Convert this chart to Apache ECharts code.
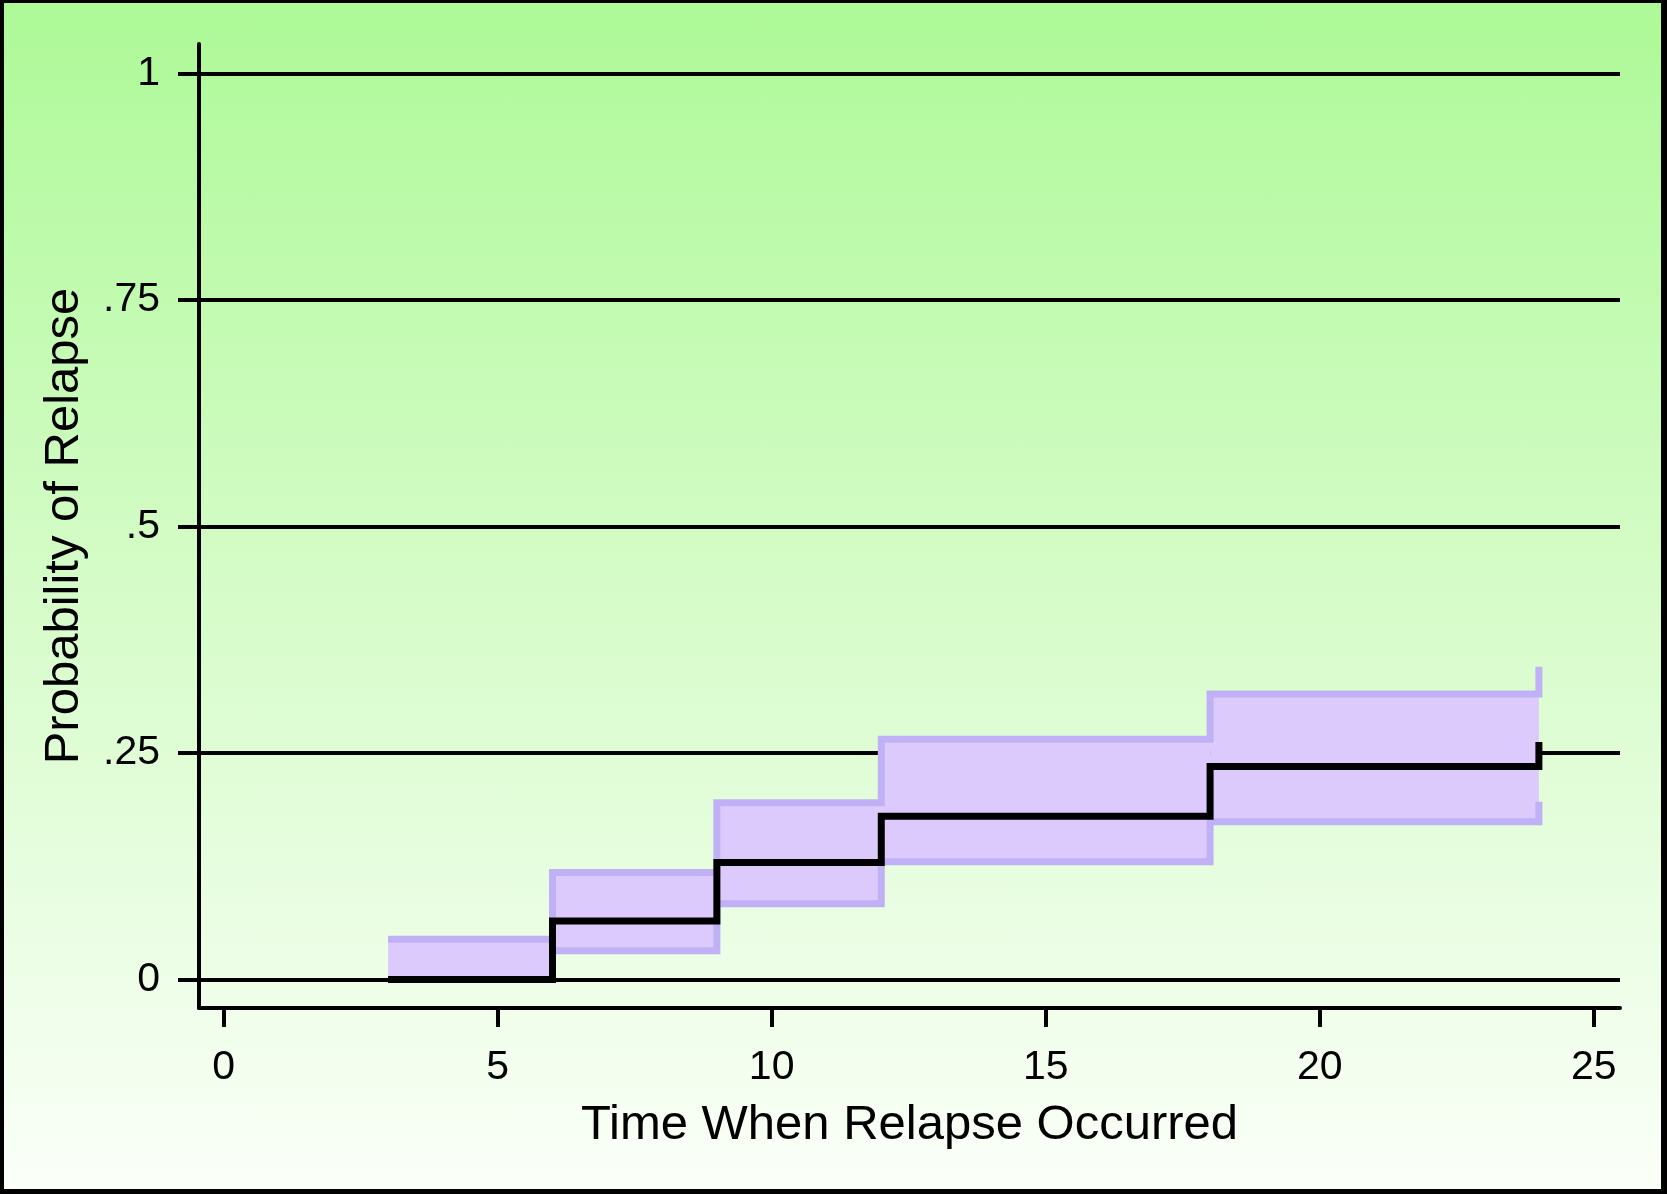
<!DOCTYPE html>
<html>
<head>
<meta charset="utf-8">
<script src="https://cdn.jsdelivr.net/npm/echarts@6/dist/echarts.min.js"></script>
<style>
  html, body { margin: 0; padding: 0; }
  #bg { position: absolute; left: 0; top: 0; width: 1667px; height: 1194px;
        background: linear-gradient(to bottom, #adf997 0%, #d6fcc9 50%, #fbfff9 100%); }
  #chart { position: absolute; left: 0; top: 0; width: 1667px; height: 1194px; }
  #frame { position: absolute; left: 0; top: 0; width: 1667px; height: 1194px; box-sizing: border-box;
           border-style: solid; border-color: #000; border-width: 3px 6px 5px 4px; pointer-events: none; }
</style>
</head>
<body>
<div id="bg"></div>
<div id="chart"></div>
<div id="frame"></div>
<script>
// Time points of the step function
const times = [3, 6, 9, 12, 18, 24];
// Probability of relapse (Kaplan-Meier failure estimate)
const relapse = [0, 0.0645, 0.129, 0.18, 0.235, 0.262];
// Confidence band bounds
const lowerCI = [0, 0.0316, 0.0835, 0.13, 0.174, 0.196];
const upperCI = [0.0445, 0.118, 0.195, 0.265, 0.315, 0.345];
// Tick values and labels
const xTicks = [0, 5, 10, 15, 20, 25];
const yTicks = [0, 0.25, 0.5, 0.75, 1];
const yTickLabels = ['0', '.25', '.5', '.75', '1'];

const FONT = '"Liberation Sans", Arial, Helvetica, sans-serif';
const BAND_FILL = '#dccafd';
const BAND_EDGE = '#c0b1f7';

const bandRects = [];
for (let i = 0; i < times.length - 1; i++) {
  bandRects.push([times[i], times[i + 1], lowerCI[i], upperCI[i]]);
}

const chart = echarts.init(document.getElementById('chart'), null, { renderer: 'canvas' });
chart.setOption({
  backgroundColor: 'transparent',
  animation: false,
  grid: { left: 199, right: 47, top: 44, bottom: 186 },
  xAxis: {
    type: 'value',
    min: -0.45,
    max: 25.48,
    axisLine: { show: true, onZero: false, lineStyle: { color: '#000', width: 4 } },
    axisTick: { show: true, length: 19, customValues: xTicks, lineStyle: { color: '#000', width: 4 } },
    axisLabel: { customValues: xTicks, fontSize: 41, color: '#000', margin: 39, fontFamily: FONT },
    splitLine: { show: false },
    name: 'Time When Relapse Occurred',
    nameLocation: 'middle',
    nameGap: 93,
    nameTextStyle: { fontSize: 49, color: '#000', fontFamily: FONT }
  },
  yAxis: {
    type: 'value',
    min: -0.0315,
    max: 1.0323,
    axisLine: { show: true, onZero: false, lineStyle: { color: '#000', width: 4 } },
    axisTick: { show: true, length: 21, customValues: yTicks, lineStyle: { color: '#000', width: 4 } },
    axisLabel: {
      customValues: yTicks, fontSize: 41, color: '#000', margin: 39, fontFamily: FONT,
      formatter: function (v) {
        const idx = yTicks.findIndex(t => Math.abs(t - v) < 1e-9);
        return idx >= 0 ? yTickLabels[idx] : '';
      }
    },
    splitLine: { show: true, lineStyle: { color: '#000', width: 4 } },
    name: 'Probability of Relapse',
    nameLocation: 'middle',
    nameGap: 110,
    nameTextStyle: { fontSize: 49, color: '#000', fontFamily: FONT }
  },
  series: [
    {
      type: 'custom',
      z: 2,
      silent: true,
      encode: { x: [0, 1], y: [2, 3] },
      data: bandRects,
      renderItem: function (params, api) {
        const p0 = api.coord([api.value(0), api.value(3)]);
        const p1 = api.coord([api.value(1), api.value(2)]);
        return {
          type: 'rect',
          shape: { x: p0[0], y: p0[1], width: p1[0] - p0[0], height: p1[1] - p0[1] },
          style: { fill: BAND_FILL }
        };
      }
    },
    {
      type: 'line', z: 3, step: 'end', symbol: 'none', silent: true,
      data: times.map((t, i) => [t, upperCI[i]]),
      lineStyle: { color: BAND_EDGE, width: 7, cap: 'butt', join: 'miter' }
    },
    {
      type: 'line', z: 3, step: 'end', symbol: 'none', silent: true,
      data: times.map((t, i) => [t, lowerCI[i]]),
      lineStyle: { color: BAND_EDGE, width: 7, cap: 'butt', join: 'miter' }
    },
    {
      type: 'line', z: 4, step: 'end', symbol: 'none', silent: true,
      data: times.map((t, i) => [t, relapse[i]]),
      lineStyle: { color: '#000', width: 7, cap: 'butt', join: 'miter' }
    }
  ]
});
</script>
</body>
</html>
